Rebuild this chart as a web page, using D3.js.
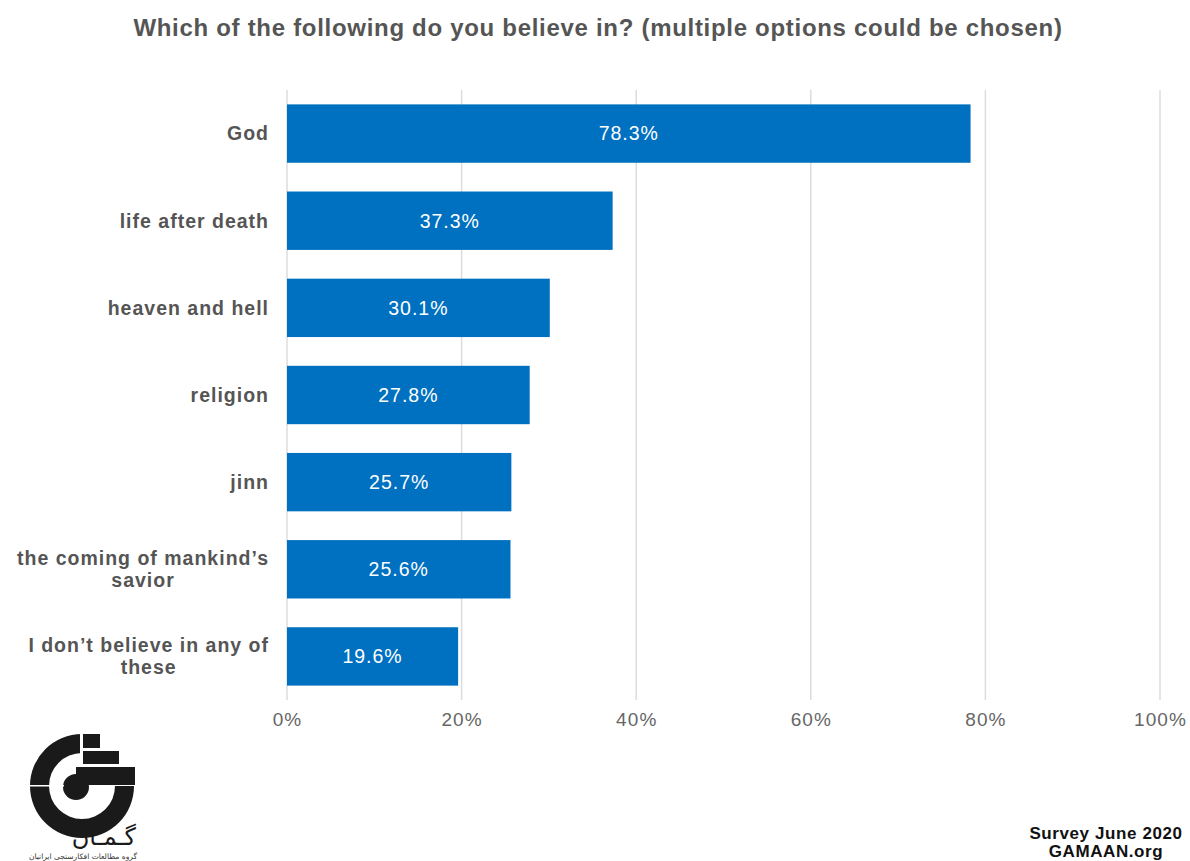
<!DOCTYPE html>
<html><head><meta charset="utf-8">
<script src="https://cdn.jsdelivr.net/npm/d3@7"></script>
<style>body{margin:0;background:#fff}svg{display:block}</style>
</head><body>
<svg id="chart" width="1190" height="861"></svg>
<script>
const categories = [
  ["God"],
  ["life after death"],
  ["heaven and hell"],
  ["religion"],
  ["jinn"],
  ["the coming of mankind\u2019s", "savior"],
  ["I don\u2019t believe in any of", "these"]
];
const values = [78.3, 37.3, 30.1, 27.8, 25.7, 25.6, 19.6];
const tickValues = [0, 20, 40, 60, 80, 100];
const tickLabels = ["0%", "20%", "40%", "60%", "80%", "100%"];
const titleText = "Which of the following do you believe in? (multiple options could be chosen)";
const footerLines = ["Survey June 2020", "GAMAAN.org"];

const svg = d3.select("#chart");
const font = "'Liberation Sans', Arial, Helvetica, sans-serif";
const x = d3.scaleLinear().domain([0, 100]).range([287, 1160]);
const y = d3.scaleBand().domain(d3.range(categories.length)).range([90, 700])
  .paddingInner(0.33).paddingOuter(0.165);

svg.append("text").attr("x", 598).attr("y", 36).attr("text-anchor", "middle")
  .style("font-family", font).style("font-weight", "bold").style("font-size", "24px")
  .style("letter-spacing", "0.7px")
  .attr("fill", "#555").text(titleText);

// gridlines
svg.append("g").selectAll("line").data(tickValues).join("line")
  .attr("x1", d => x(d)).attr("x2", d => x(d)).attr("y1", 90).attr("y2", 700)
  .attr("stroke", "#dcdcdc").attr("stroke-width", 1.5);

// x axis labels
const xAxis = d3.axisBottom(x).tickValues(tickValues).tickFormat((d, i) => tickLabels[i]).tickSize(0).tickPadding(0);
const gx = svg.append("g").attr("transform", "translate(0,709)").call(xAxis);
gx.select(".domain").remove();
gx.selectAll("text").style("font-family", font).style("font-size", "19px").style("letter-spacing", "1.1px")
  .attr("fill", "#666").attr("dy", "0.9em");

// bars
svg.append("g").selectAll("rect").data(values).join("rect")
  .attr("x", x(0)).attr("y", (d, i) => y(i)).attr("width", d => x(d) - x(0)).attr("height", y.bandwidth())
  .attr("fill", "#0070c0");

svg.append("g").selectAll("text").data(values).join("text")
  .attr("x", d => (x(0) + x(d)) / 2).attr("y", (d, i) => y(i) + y.bandwidth() / 2)
  .attr("dy", "0.35em").attr("text-anchor", "middle")
  .style("font-family", font).style("font-size", "19.5px").style("letter-spacing", "1px").attr("fill", "#fff")
  .text(d => d.toFixed(1) + "%");

// category labels: block right-aligned, lines centred within block
const labelRight = 269;
const lab = svg.append("g").selectAll("text").data(categories).join("text")
  .style("font-family", font).style("font-weight", "bold")
  .style("font-size", "19.5px").style("letter-spacing", "1px").attr("fill", "#555");
lab.each(function(lines, i) {
  const cy = y(i) + y.bandwidth() / 2;
  const lh = 22;
  const start = cy - (lines.length - 1) * lh / 2;
  const t = d3.select(this);
  const spans = t.selectAll("tspan").data(lines).join("tspan")
    .attr("y", (d, j) => start + j * lh).attr("dy", "0.35em").text(d => d);
  let maxW = 0;
  spans.each(function() { maxW = Math.max(maxW, this.getComputedTextLength()); });
  t.attr("text-anchor", "middle");
  spans.attr("x", labelRight - maxW / 2);
});

// footer
svg.append("g").selectAll("text").data(footerLines).join("text")
  .attr("x", 1106).attr("y", (d, i) => 839 + i * 18).attr("text-anchor", "middle")
  .style("font-family", font).style("font-weight", "bold").style("font-size", "17px")
  .style("letter-spacing", "0.6px")
  .attr("fill", "#111").text(d => d);

// logo
const logo = svg.append("g");
const cx = 82, cyL = 786;
const arc = d3.arc().innerRadius(33).outerRadius(52).startAngle(0.5 * Math.PI).endAngle(2 * Math.PI);
logo.append("path").attr("transform", `translate(${cx},${cyL})`).attr("d", arc()).attr("fill", "#1a1a1a");
logo.append("circle").attr("cx", 76).attr("cy", 787).attr("r", 13).attr("fill", "#1a1a1a");
logo.append("rect").attr("x", 83).attr("y", 734).attr("width", 17).attr("height", 14).attr("fill", "#1a1a1a");
logo.append("rect").attr("x", 83).attr("y", 751).attr("width", 36).attr("height", 13).attr("fill", "#1a1a1a");
logo.append("rect").attr("x", 76).attr("y", 767).attr("width", 59).attr("height", 18).attr("fill", "#1a1a1a");
logo.append("rect").attr("x", 80).attr("y", 732).attr("width", 3).attr("height", 35).attr("fill", "#fff");
logo.append("rect").attr("x", 29).attr("y", 785).attr("width", 35).attr("height", 1.5).attr("fill", "#fff");
logo.append("text").attr("x", 136).attr("y", 845).attr("text-anchor", "end")
  .style("font-family", "'DejaVu Sans', sans-serif").style("font-size", "24px").attr("fill", "#1a1a1a")
  .text("گـمـان");
logo.append("text").attr("x", 137).attr("y", 859).attr("text-anchor", "end")
  .style("font-family", "'DejaVu Sans', sans-serif").style("font-size", "7.5px").attr("fill", "#333")
  .text("گروه مطالعات افکارسنجی ایرانیان");
</script>
</body></html>
